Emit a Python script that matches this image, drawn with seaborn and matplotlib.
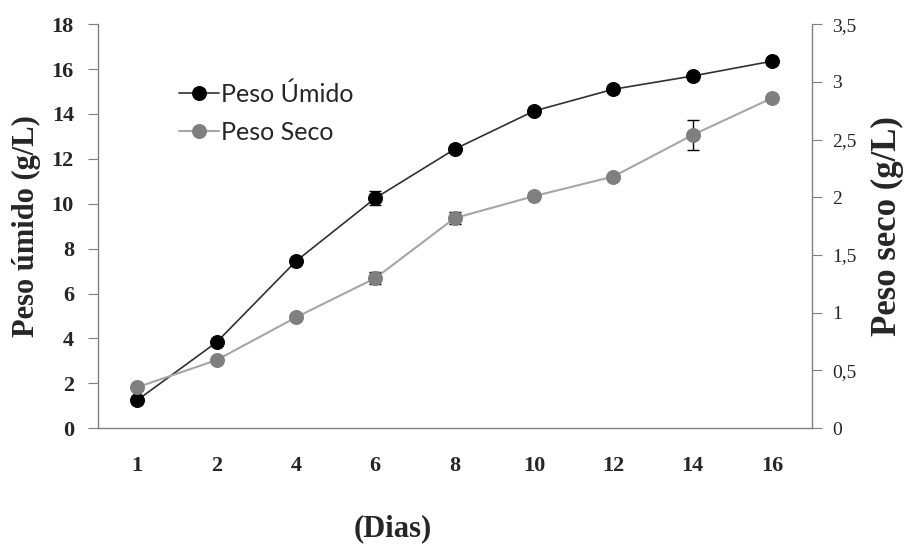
import numpy as np
import pandas as pd
import matplotlib
matplotlib.use('Agg')
import matplotlib.pyplot as plt
import matplotlib.ticker as mticker
import seaborn as sns

# Dados
dias = ['1', '2', '4', '6', '8', '10', '12', '14', '16']
peso_umido = [1.25, 3.83, 7.44, 10.25, 12.43, 14.13, 15.1, 15.69, 16.35]
erro_umido = [0.05, 0.05, 0.05, 0.3, 0.1, 0.1, 0.05, 0.1, 0.15]
peso_seco = [0.355, 0.59, 0.96, 1.3, 1.82, 2.01, 2.18, 2.54, 2.86]
erro_seco = [0.01, 0.01, 0.01, 0.05, 0.05, 0.02, 0.02, 0.13, 0.02]

df = pd.DataFrame({'Dias': dias, 'Umido': peso_umido, 'Seco': peso_seco})

sns.set_style('white')
serif = ['Liberation Serif', 'DejaVu Serif']
sans = ['Lato', 'DejaVu Sans']

fig, ax = plt.subplots(figsize=(9.12, 5.49), dpi=100)
fig.subplots_adjust(left=0.107, right=0.890, top=0.956, bottom=0.220)
ax2 = ax.twinx()

# Peso úmido (eixo esquerdo)
ax.errorbar(df['Dias'], df['Umido'], yerr=erro_umido, fmt='none', ecolor='black',
            elinewidth=1, capsize=4, zorder=3)
sns.lineplot(data=df, x='Dias', y='Umido', ax=ax, color='#303030', linewidth=1.2,
             marker='o', markersize=10, markerfacecolor='black', markeredgecolor='black',
             sort=False, zorder=4, label='Peso Úmido', legend=False)

# Peso seco (eixo direito)
ax2.errorbar(df['Dias'], df['Seco'], yerr=erro_seco, fmt='none', ecolor='black',
             elinewidth=1, capsize=4, zorder=3)
sns.lineplot(data=df, x='Dias', y='Seco', ax=ax2, color='#a6a6a6', linewidth=1.5,
             marker='o', markersize=10, markerfacecolor='#7f7f7f', markeredgecolor='#7f7f7f',
             sort=False, zorder=4, label='Peso Seco', legend=False)

ax.set_xlim(-0.5, len(dias) - 0.5)
ax.set_ylim(0, 18)
ax2.set_ylim(0, 3.5)
ax.set_yticks(np.arange(0, 19, 2))
ax2.set_yticks(np.arange(0, 3.6, 0.5))
ax2.yaxis.set_major_formatter(mticker.FuncFormatter(
    lambda v, p: ('%g' % v).replace('.', ',')))

# ticks do eixo x nas divisões entre categorias
ax.set_xticks(range(len(dias)))
ax.set_xticklabels(dias)
ax.set_xticks(np.arange(-0.5, len(dias), 1), minor=True)
ax.tick_params(axis='x', which='major', length=0, pad=20)
ax.tick_params(axis='x', which='minor', length=6, direction='out', color='#808080')
ax.tick_params(axis='y', length=7, direction='out', color='#808080', pad=10)
ax2.tick_params(axis='y', length=7, direction='out', color='#808080', pad=8)

for lab in ax.get_xticklabels() + ax.get_yticklabels():
    lab.set_family(serif)
    lab.set_fontweight('bold')
    lab.set_fontsize(16)
for lab in ax2.get_yticklabels():
    lab.set_family(serif)
    lab.set_fontsize(14)

for a in (ax, ax2):
    for s in a.spines.values():
        s.set_visible(False)
ax.spines['left'].set_visible(True)
ax.spines['bottom'].set_visible(True)
ax2.spines['right'].set_visible(True)
for s in (ax.spines['left'], ax.spines['bottom'], ax2.spines['right']):
    s.set_color('#808080')
    s.set_linewidth(1)

ax.set_xlabel('')
ax2.set_xlabel('')
fig.text(393 / 912, 6 / 549, '(Dias)', ha='center', va='bottom',
         family=serif, fontweight='bold', fontsize=22)
ax.set_ylabel('Peso úmido (g/L)', family=serif, fontweight='bold', fontsize=22, labelpad=8)
ax2.set_ylabel('Peso seco (g/L)', family=serif, fontweight='bold', fontsize=25, labelpad=10)

h1, l1 = ax.get_legend_handles_labels()
h2, l2 = ax2.get_legend_handles_labels()
leg = ax2.legend(h1 + h2, l1 + l2, loc='upper left', bbox_to_anchor=(0.10, 0.88),
                 frameon=False, prop={'family': sans, 'size': 18},
                 handlelength=1.6, handletextpad=0.1, labelspacing=0.6, borderaxespad=0)

fig.savefig('out.png', dpi=100)
